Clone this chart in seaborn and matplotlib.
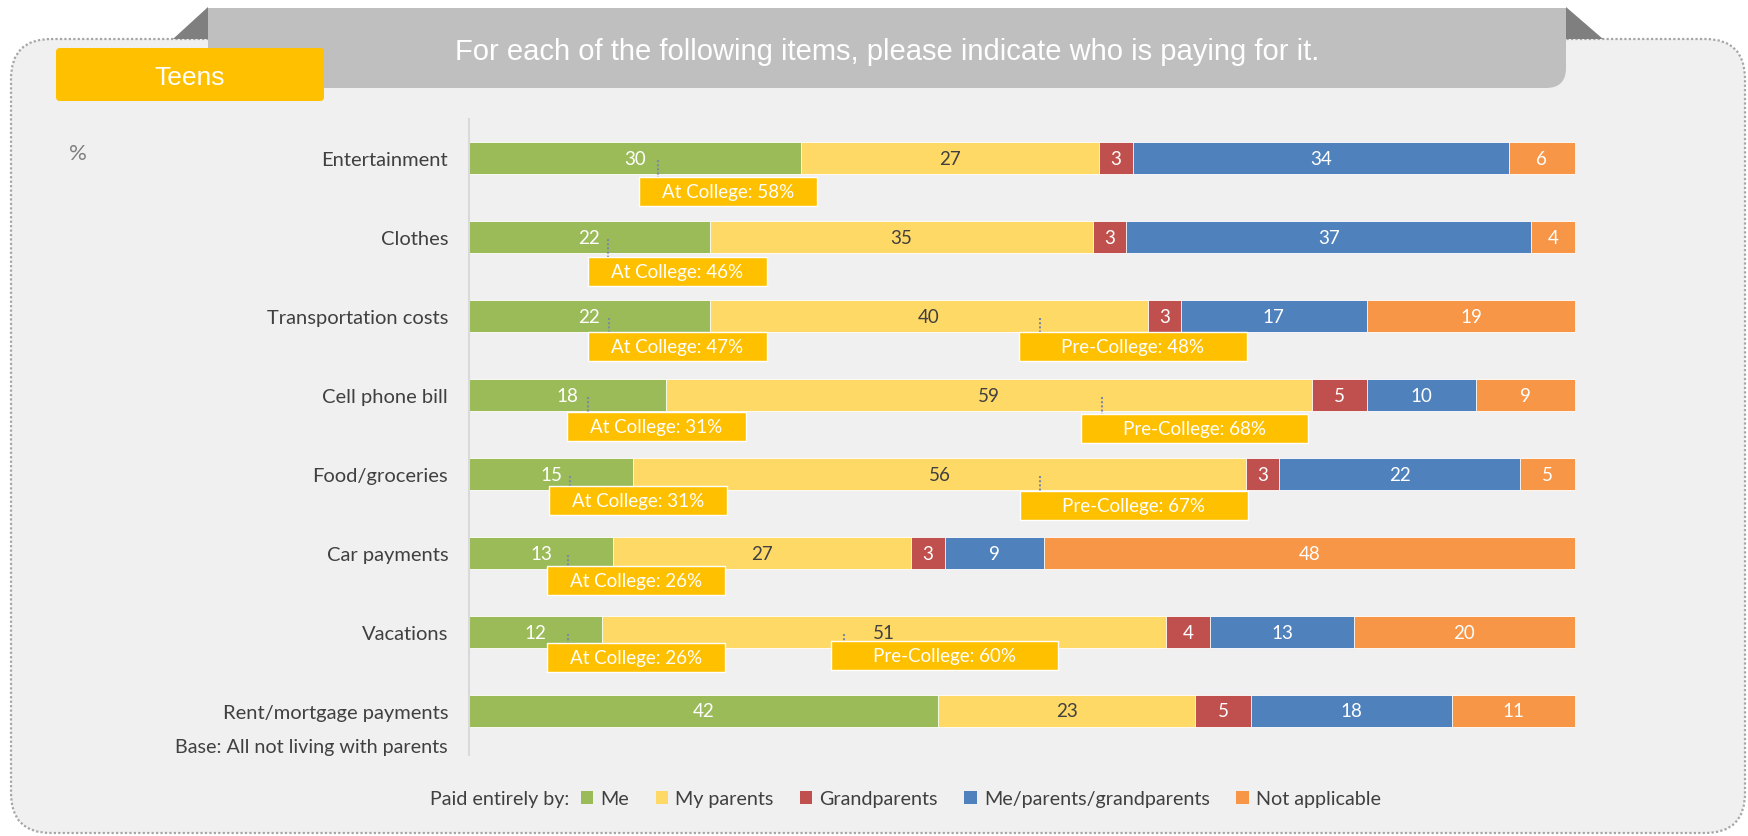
import matplotlib
matplotlib.use("Agg")
import matplotlib.pyplot as plt
from matplotlib.patches import FancyBboxPatch, Rectangle, Polygon, Patch
import numpy as np
import pandas as pd
import seaborn as sns

# ---- data -------------------------------------------------------------
categories = ["Entertainment", "Clothes", "Transportation costs", "Cell phone bill",
              "Food/groceries", "Car payments", "Vacations", "Rent/mortgage payments"]
me = [30, 22, 22, 18, 15, 13, 12, 42]
my_parents = [27, 35, 40, 59, 56, 27, 51, 23]
grandparents = [3, 3, 3, 5, 3, 3, 4, 5]
shared = [34, 37, 17, 10, 22, 9, 13, 18]
not_applicable = [6, 4, 19, 9, 5, 48, 20, 11]
series_names = ["Me", "My parents", "Grandparents", "Me/parents/grandparents", "Not applicable"]

at_college = {"Entertainment": 58, "Clothes": 46, "Transportation costs": 47,
              "Cell phone bill": 31, "Food/groceries": 31, "Car payments": 26,
              "Vacations": 26}
pre_college = {"Transportation costs": 48, "Cell phone bill": 68,
               "Food/groceries": 67, "Vacations": 60}

# ---- styling ----------------------------------------------------------
colors = ["#9bbb59", "#ffd966", "#c0504d", "#4f81bd", "#f79646"]
label_colors = ["white", "#404040", "white", "white", "white"]
TEXT = "#404040"
CALLOUT = "#ffc000"

# callout placement: (box left along bar in %, box top below row centre, leader x)
at_layout = {"Entertainment": (15.4, 0.24, 17.1), "Clothes": (10.8, 0.25, 12.6),
             "Transportation costs": (10.8, 0.20, 12.7), "Cell phone bill": (8.9, 0.215, 10.8),
             "Food/groceries": (7.2, 0.155, 9.1), "Car payments": (7.05, 0.165, 8.95),
             "Vacations": (7.05, 0.14, 8.95)}
pre_layout = {"Transportation costs": (49.7, 0.205, 51.6), "Cell phone bill": (55.3, 0.24, 57.2),
              "Food/groceries": (49.8, 0.215, 51.6), "Vacations": (32.7, 0.115, 33.9)}

sns.set_style("white")
plt.rcParams["font.family"] = ["Lato", "DejaVu Sans"]

W, H = 1748, 837
fig = plt.figure(figsize=(W / 100, H / 100), dpi=100)
fig.patch.set_facecolor("white")

# ---- background decorations (pixel coordinates) -----------------------
bg = fig.add_axes([0, 0, 1, 1])
bg.set_xlim(0, W)
bg.set_ylim(H, 0)
bg.axis("off")

bg.add_patch(FancyBboxPatch((11, 40), 1734, 794, boxstyle="round,pad=0,rounding_size=40",
                            fc="#f0f0f0", ec="#a6a6a6", lw=1.6, ls=(0, (1, 1))))
# title banner with a rounded lower-right corner
banner = "#bfbfbf"
bg.add_patch(FancyBboxPatch((208, 9), 1358, 80, boxstyle="round,pad=0,rounding_size=20",
                            fc=banner, ec="none"))
bg.add_patch(Rectangle((208, 9), 1330, 80, fc=banner, ec="none"))
bg.add_patch(Rectangle((208, 9), 1358, 55, fc=banner, ec="none"))
bg.add_patch(Polygon([(208, 8), (208, 40), (173, 40)], fc="#7f7f7f", ec="none"))
bg.add_patch(Polygon([(1566, 8), (1566, 40), (1603, 40)], fc="#7f7f7f", ec="none"))
bg.text(887, 52, "For each of the following items, please indicate who is paying for it.",
        ha="center", va="center", color="white", fontsize=21, family="Liberation Sans")

bg.add_patch(FancyBboxPatch((56, 49), 268, 53, boxstyle="round,pad=0,rounding_size=4",
                            fc="#ffc000", ec="none"))
bg.text(190, 78, "Teens", ha="center", va="center", color="white", fontsize=19,
        family="Liberation Sans")
bg.text(78, 154, "%", ha="center", va="center", color="#7f7f7f", fontsize=16)
bg.text(448, 747, "Base: All not living with parents", ha="right", va="center",
        color=TEXT, fontsize=14.2)

# ---- stacked 100% bar chart ------------------------------------------
values = np.array([me, my_parents, grandparents, shared, not_applicable], dtype=float)
shares = values / values.sum(axis=0) * 100
cum = np.cumsum(shares, axis=0)

ax = fig.add_axes([469 / W, 1 - 756 / H, 1106 / W, 636 / H])
ax.set_facecolor("none")

# draw the cumulative totals from the right-most series back to the first
for k in range(len(series_names) - 1, -1, -1):
    df = pd.DataFrame({"category": categories, "value": cum[k]})
    sns.barplot(data=df, x="value", y="category", orient="h", color=colors[k],
                saturation=1, width=0.41, edgecolor="white", linewidth=0.6, ax=ax)

for k in range(len(series_names)):
    for i in range(len(categories)):
        centre = cum[k, i] - shares[k, i] / 2
        ax.text(centre, i, f"{int(values[k, i])}", ha="center", va="center",
                color=label_colors[k], fontsize=13.5)

def callout(row, text, left, top, lead_x, width):
    ax.plot([lead_x, lead_x], [row + 0.03, row + top], color="#7f8aa0",
            lw=1.5, ls=(0, (1, 1)), zorder=4)
    ax.add_patch(Rectangle((left, row + top), width, 0.37, fc=CALLOUT, ec="white",
                           lw=1.0, zorder=5))
    ax.text(left + width / 2, row + top + 0.185, text, ha="center", va="center",
            color="white", fontsize=13.5, zorder=6)

for cat, pct in at_college.items():
    left, top, lx = at_layout[cat]
    callout(categories.index(cat), f"At College: {pct}%", left, top, lx, 16.1)
for cat, pct in pre_college.items():
    left, top, lx = pre_layout[cat]
    callout(categories.index(cat), f"Pre-College: {pct}%", left, top, lx, 20.6)

ax.set_xlim(0, 100)
ax.set_ylim(7.557, -0.494)
ax.set_xlabel("")
ax.set_ylabel("")
ax.set_xticks([])
ax.tick_params(axis="y", length=0, pad=15, labelsize=14.5, labelcolor=TEXT)
for side in ["top", "right", "bottom"]:
    ax.spines[side].set_visible(False)
ax.spines["left"].set_color("#d9d9d9")
ax.spines["left"].set_linewidth(1.5)

# ---- legend ----------------------------------------------------------
handles = [Patch(facecolor=c, edgecolor="none") for c in colors]
fig.legend(handles, series_names, loc="center left",
           bbox_to_anchor=(581 / W, 1 - 800 / H), ncol=5, frameon=False,
           fontsize=14.2, labelcolor=TEXT, handlelength=0.63, handleheight=0.63,
           handletextpad=0.35, columnspacing=1.35, borderpad=0, borderaxespad=0)
bg.text(569, 800, "Paid entirely by:", ha="right", va="center", color=TEXT, fontsize=14.2)

fig.savefig("out.png", dpi=100, facecolor="white")
